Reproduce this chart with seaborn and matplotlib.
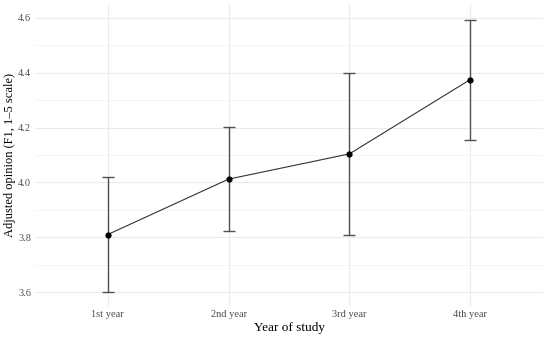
import numpy as np
import pandas as pd
import seaborn as sns
import matplotlib.pyplot as plt
from matplotlib.ticker import MultipleLocator

# values
years = ['1st year', '2nd year', '3rd year', '4th year']
means = [3.81, 4.012, 4.104, 4.375]
lower = [3.60, 3.822, 3.808, 4.156]
upper = [4.021, 4.201, 4.400, 4.593]

df = pd.DataFrame({'year': years, 'mean': means, 'lo': lower, 'hi': upper})
df['pos'] = np.arange(len(years))

sns.set_theme(style='whitegrid')
plt.rcParams['font.family'] = ['Liberation Serif', 'DejaVu Serif']

fig, ax = plt.subplots(figsize=(5.5, 3.38), dpi=100)
fig.subplots_adjust(left=0.064, right=0.987, top=0.988, bottom=0.095)

ax.errorbar(df['pos'], df['mean'],
            yerr=[df['mean'] - df['lo'], df['hi'] - df['mean']],
            fmt='none', ecolor='#505050', elinewidth=1.0, capsize=4.3,
            capthick=1.0, zorder=2)
sns.lineplot(data=df, x='pos', y='mean', ax=ax, color='#333333',
             linewidth=0.8, marker='o', markersize=4.5, markeredgewidth=0,
             markerfacecolor='black', zorder=3)

ax.set_xlim(-0.6, len(years) - 0.4)
ax.set_ylim(3.55, 4.65)
ax.set_xticks(df['pos'])
ax.set_xticklabels(years)
ax.yaxis.set_major_locator(MultipleLocator(0.2))
ax.yaxis.set_minor_locator(MultipleLocator(0.1))
ax.set_yticks([3.6, 3.8, 4.0, 4.2, 4.4, 4.6])
ax.set_yticklabels(['3.6', '3.8', '4.0', '4.2', '4.4', '4.6'])

ax.set_facecolor('white')
ax.grid(which='major', color='#ebebeb', linewidth=0.8)
ax.grid(which='minor', axis='y', color='#f3f3f3', linewidth=0.6)
ax.grid(which='minor', axis='x', visible=False)
for s in ax.spines.values():
    s.set_visible(False)
ax.tick_params(axis='both', which='both', length=0, labelsize=7.5,
               labelcolor='#4d4d4d', pad=3)

ax.set_xlabel('Year of study', fontsize=9.5, color='black', labelpad=2)
ax.set_ylabel('Adjusted opinion (F1, 1\u20135 scale)', fontsize=9,
              color='black')
ax.yaxis.set_label_coords(-0.037, 0.5)

plt.savefig('out.png', dpi=100)
